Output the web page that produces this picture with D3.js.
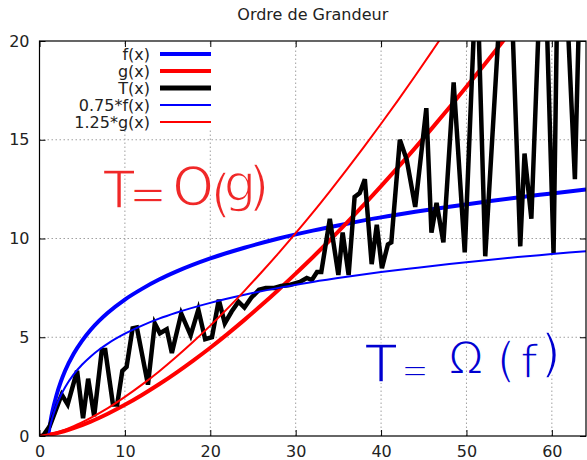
<!DOCTYPE html>
<html>
<head>
<meta charset="utf-8">
<script src="https://cdn.jsdelivr.net/npm/d3@7"></script>
<style>
  body { margin: 0; background: #fff; }
  svg { display: block; font-family: "DejaVu Sans", sans-serif; }
</style>
</head>
<body>
<div id="chart"></div>
<script>
// axes
const xTicks = [0, 10, 20, 30, 40, 50, 60];
const yTicks = [0, 5, 10, 15, 20];

// f(x)
const fX = [1, 1.5, 2, 2.5, 3, 4, 5, 6, 7, 8, 10, 12, 14, 16, 20, 24, 28, 32, 36, 40, 44, 48, 52, 56, 60, 64];
const fY = [0, 1.22, 2.08, 2.75, 3.30, 4.16, 4.83, 5.38, 5.84, 6.24, 6.91, 7.45, 7.92, 8.32, 8.99, 9.53, 10.0, 10.4, 10.75, 11.07, 11.35, 11.61, 11.85, 12.08, 12.28, 12.48];
// 0.75*f(x) - thin blue
const f75Y = [0, 0.91, 1.56, 2.06, 2.47, 3.12, 3.62, 4.03, 4.38, 4.68, 5.18, 5.59, 5.94, 6.24, 6.74, 7.15, 7.50, 7.80, 8.06, 8.30, 8.51, 8.71, 8.89, 9.06, 9.21, 9.36];

// g(x) - thick red
const gX = [0, 2, 4, 6, 8, 10, 12, 14, 16, 18, 20, 22, 24, 26, 28, 30, 32, 34, 36, 38, 40, 42, 44, 46, 48, 50, 52, 54, 56, 58, 60];
const gY = [0, 0.14, 0.40, 0.73, 1.13, 1.58, 2.08, 2.62, 3.2, 3.82, 4.47, 5.16, 5.88, 6.63, 7.41, 8.22, 9.05, 9.91, 10.8, 11.71, 12.65, 13.61, 14.59, 15.6, 16.63, 17.68, 18.75, 19.84, 20.95, 22.09, 23.24];
// 1.25*g(x) - thin red
const g125Y = [0, 0.18, 0.5, 0.92, 1.41, 1.98, 2.6, 3.27, 4.0, 4.77, 5.59, 6.45, 7.35, 8.29, 9.26, 10.27, 11.31, 12.39, 13.5, 14.64, 15.81, 17.01, 18.24, 19.5, 20.78, 22.1, 23.4, 24.8, 26.2, 27.6, 29.0];

// T(x) - thick black, noisy
const tX = [0, 0.4, 1.2, 2.6, 3.3, 4.4, 5.1, 5.7, 6.4, 7.3, 7.7, 8.6, 9.1, 9.7, 10.2, 10.9, 11.4, 12.7, 13.5, 14.1, 14.9, 15.5, 16.6, 17.7, 18.6, 19.4, 20.2, 21.0, 21.7, 22.5, 23.3, 24.0, 24.8, 25.7, 26.5, 27.5, 28.3, 29.3, 30.5, 31.3, 31.9, 32.5, 33.0, 34.0, 35.0, 35.5, 36.2, 36.9, 37.5, 38.1, 38.9, 39.5, 40.1, 40.8, 41.2, 42.2, 43.0, 44.0, 45.3, 45.9, 46.5, 47.3, 48.5, 49.8, 51.2, 52.2, 54.8, 56.3, 56.8, 57.6, 59.0, 60.2, 60.9, 62.7, 63.4];
const tY = [0, 0, 0.5, 2.1, 1.6, 3.3, 0.9, 2.9, 1.0, 4.35, 4.35, 1.6, 1.6, 3.3, 3.5, 5.45, 5.5, 2.6, 5.7, 5.2, 5.4, 4.2, 6.2, 5.1, 6.4, 4.9, 5.0, 6.9, 5.7, 6.3, 6.8, 6.5, 7.0, 7.4, 7.5, 7.5, 7.6, 7.65, 7.8, 8.0, 7.9, 8.3, 8.3, 11.0, 8.15, 10.3, 8.15, 12.1, 12.3, 13.0, 8.7, 10.7, 8.5, 9.7, 9.8, 15.0, 14.0, 11.6, 16.6, 10.3, 11.8, 9.8, 17.9, 9.3, 24, 9.1, 28, 9.6, 14.3, 11.0, 27, 9.25, 30, 13.0, 25];

const seriesNames = ["f(x)", "g(x)", "T(x)", "0.75*f(x)", "1.25*g(x)"];

const width = 587, height = 460;
const margin = { top: 41, right: 1, bottom: 24, left: 39.5 };

const svg = d3.select("#chart").append("svg")
  .attr("width", width)
  .attr("height", height);

const x = d3.scaleLinear().domain([0, 64]).range([margin.left, width - margin.right]);
const y = d3.scaleLinear().domain([0, 20]).range([height - margin.bottom, margin.top]);

// grille pointillée
svg.append("g")
  .selectAll("line")
  .data(xTicks.filter(d => d > 0))
  .join("line")
  .attr("x1", d => x(d)).attr("x2", d => x(d))
  .attr("y1", y(0)).attr("y2", y(20))
  .attr("stroke", "#a0a0a0")
  .attr("stroke-dasharray", "1.5,2.5");
svg.append("g")
  .selectAll("line")
  .data(yTicks.filter(d => d > 0 && d < 20))
  .join("line")
  .attr("x1", x(0)).attr("x2", x(64))
  .attr("y1", d => y(d)).attr("y2", d => y(d))
  .attr("stroke", "#a0a0a0")
  .attr("stroke-dasharray", "1.5,2.5");

// fond opaque de la légende
svg.append("rect")
  .attr("x", 70).attr("y", 46)
  .attr("width", 146).attr("height", 84)
  .attr("fill", "#fff");

// axes
const xAxis = d3.axisBottom(x).tickValues(xTicks).tickSizeInner(-6).tickSizeOuter(0).tickPadding(10);
const yAxis = d3.axisLeft(y).tickValues(yTicks).tickSizeInner(-6).tickSizeOuter(0).tickPadding(10);
const gx = svg.append("g").attr("transform", `translate(0,${y(0)})`).call(xAxis);
const gy = svg.append("g").attr("transform", `translate(${x(0)},0)`).call(yAxis);
// ticks miroirs
svg.append("g").attr("transform", `translate(0,${y(20)})`)
  .call(d3.axisTop(x).tickValues(xTicks).tickSizeInner(-6).tickSizeOuter(0).tickFormat(""));
svg.append("g").attr("transform", `translate(${x(64)},0)`)
  .call(d3.axisRight(y).tickValues(yTicks).tickSizeInner(-6).tickSizeOuter(0).tickFormat(""));
svg.selectAll(".domain").remove();
svg.selectAll(".tick line").attr("stroke", "#000");
[gx, gy].forEach(g => g.selectAll("text")
  .attr("font-size", "16px")
  .attr("font-family", "DejaVu Sans, sans-serif")
  .attr("fill", "#222"));

svg.append("defs").append("clipPath").attr("id", "plot")
  .append("rect")
  .attr("x", x(0)).attr("y", y(20))
  .attr("width", x(64) - x(0)).attr("height", y(0) - y(20));

const line = d3.line().x(d => x(d[0])).y(d => y(d[1]));
const smooth = d3.line().x(d => x(d[0])).y(d => y(d[1])).curve(d3.curveMonotoneX);

const curves = svg.append("g").attr("clip-path", "url(#plot)");
curves.append("path").datum(fX.map((v, i) => [v, fY[i]]))
  .attr("d", smooth).attr("fill", "none").attr("stroke", "#0000ff").attr("stroke-width", 4);
curves.append("path").datum(gX.map((v, i) => [v, gY[i]]))
  .attr("d", smooth).attr("fill", "none").attr("stroke", "#ff0000").attr("stroke-width", 4);
curves.append("path").datum(tX.map((v, i) => [v, tY[i]]))
  .attr("d", line).attr("fill", "none").attr("stroke", "#000").attr("stroke-width", 4.5)
  .attr("stroke-linejoin", "miter");
curves.append("path").datum(fX.map((v, i) => [v, f75Y[i]]))
  .attr("d", smooth).attr("fill", "none").attr("stroke", "#0000ff").attr("stroke-width", 2);
curves.append("path").datum(gX.map((v, i) => [v, g125Y[i]]))
  .attr("d", smooth).attr("fill", "none").attr("stroke", "#ff0000").attr("stroke-width", 2);

// cadre
svg.append("rect")
  .attr("x", x(0)).attr("y", y(20))
  .attr("width", x(64) - x(0)).attr("height", y(0) - y(20))
  .attr("fill", "none").attr("stroke", "#000").attr("stroke-width", 1.2);

// légende
const legColors = ["#0000ff", "#ff0000", "#000", "#0000ff", "#ff0000"];
const legWidths = [4, 4, 5, 2, 2];
const legend = svg.append("g");
seriesNames.forEach((name, i) => {
  const ly = 54 + i * 17;
  legend.append("text")
    .attr("x", 150).attr("y", ly + 6)
    .attr("text-anchor", "end")
    .attr("font-size", "16px")
    .attr("fill", "#222")
    .text(name);
  legend.append("line")
    .attr("x1", 160).attr("x2", 211)
    .attr("y1", ly).attr("y2", ly)
    .attr("stroke", legColors[i]).attr("stroke-width", legWidths[i]);
});

// titre
svg.append("text")
  .attr("x", (x(0) + x(64)) / 2).attr("y", 20)
  .attr("text-anchor", "middle")
  .attr("font-size", "16px")
  .attr("fill", "#222")
  .text("Ordre de Grandeur");

// annotations manuscrites : [texte, centre x, ligne de base, taille]
const redNote = [["T", 119, 208, 51], ["=", 148, 210, 46], ["O", 193, 205, 53],
                 ["(", 221, 211, 52], ["g", 240, 201, 51], [")", 259, 205, 53]];
const blueNote = [["T", 381, 382, 51], ["=", 415, 382, 34], ["Ω", 466, 374, 45],
                  ["(", 506, 377, 48], ["f", 529, 378, 47], [")", 551, 371, 51]];
function note(parts, color) {
  const t = svg.append("text")
    .attr("text-anchor", "middle")
    .attr("fill", color)
    .attr("stroke", "#fff")
    .attr("stroke-width", 1.6)
    .style("paint-order", "fill");
  parts.forEach(([s, px, py, fs]) => {
    t.append("tspan")
      .attr("x", px).attr("y", py)
      .attr("font-size", fs + "px")
      .text(s);
  });
}
note(redNote, "#f02828");
note(blueNote, "#0000d0");
</script>
</body>
</html>
